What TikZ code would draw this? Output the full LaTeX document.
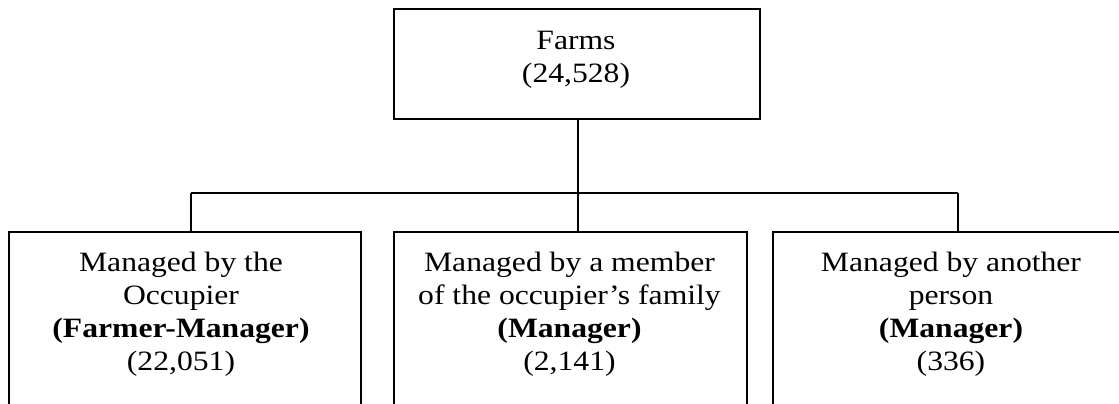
\documentclass[tikz,border=0pt]{standalone}
\usepackage{fontspec}
\setmainfont{Liberation Serif}[FakeStretch=1.13]
\begin{document}
\begin{tikzpicture}[x=1pt,y=-1pt,
  box/.style={draw=black, line width=1.6pt, rectangle, inner sep=0pt, anchor=north west},
  txt/.style={align=center, inner sep=0pt, anchor=north, font=\fontsize{28}{33}\selectfont},
  conn/.style={draw=black, line width=1.1pt}]
\useasboundingbox (0,0) rectangle (1119,404);
\node[box, minimum width=366pt, minimum height=110pt] (top) at (393,8) {};
\node[box, minimum width=352pt, minimum height=220pt] (l) at (8,231) {};
\node[box, minimum width=353pt, minimum height=220pt] (m) at (393,231) {};
\node[box, minimum width=358pt, minimum height=220pt] (r) at (772,231) {};
\node[txt] (topt) at (576,30.5) {Farms\\(24,528)};
\node[txt] (lt) at (181,251.5) {Managed by the\\Occupier\\\textbf{(Farmer-Manager)}\\(22,051)};
\node[txt] (mt) at (569.5,251.5) {Managed by a member\\of the occupier’s family\\\textbf{(Manager)}\\(2,141)};
\node[txt] (rt) at (951,251.5) {Managed by another\\person\\\textbf{(Manager)}\\(336)};
\coordinate (busL) at (191,193);
\coordinate (busR) at (958,193);
\coordinate (busM) at (578,193);
\draw[conn] (busL) -- (busR);
\draw[conn] (top.south -| busM) -- (m.north -| busM);
\draw[conn] (busL) -- (l.north -| busL);
\draw[conn] (busR) -- (r.north -| busR);
\end{tikzpicture}
\end{document}
